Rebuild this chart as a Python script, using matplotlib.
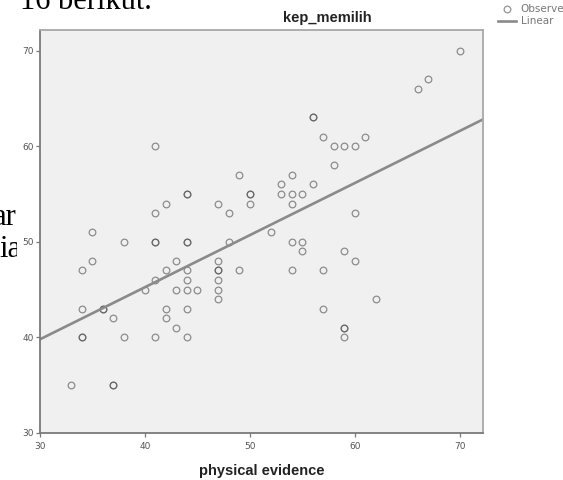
"""
Scatter kep_memilih vs physical evidence dengan garis regresi linear
"""

import matplotlib
matplotlib.use('Agg')
import matplotlib.pyplot as plt
import numpy as np
from matplotlib.patches import Rectangle

# data observasi (titik ganda ditulis dua kali)
physical = [33, 34, 34, 34, 34, 35, 35, 36, 36, 37, 37, 37, 38, 38, 40,
            41, 41, 41, 41, 41, 41, 42, 42, 42, 42, 43, 43, 43,
            44, 44, 44, 44, 44, 44, 44, 44, 44, 45,
            47, 47, 47, 47, 47, 47, 47, 48, 48, 49, 49, 50, 50, 50, 52,
            53, 53, 54, 54, 54, 54, 54, 55, 55, 55, 56, 56, 56,
            57, 57, 57, 58, 58, 59, 59, 59, 59, 59, 60, 60, 60, 61, 62,
            66, 67, 70]
kep_memilih = [35, 47, 43, 40, 40, 51, 48, 43, 43, 42, 35, 35, 50, 40, 45,
               60, 53, 50, 50, 46, 40, 54, 47, 43, 42, 48, 45, 41,
               55, 55, 50, 50, 47, 46, 45, 43, 40, 45,
               54, 48, 47, 47, 46, 45, 44, 53, 50, 57, 47, 55, 55, 54, 51,
               56, 55, 57, 55, 54, 50, 47, 55, 50, 49, 63, 63, 56,
               61, 47, 43, 60, 58, 60, 49, 41, 41, 40, 60, 53, 48, 61, 44,
               66, 67, 70]

# koefisien garis linear
intercept = 23.45
slope = 0.545

x_ticks = [30, 40, 50, 60, 70]
y_ticks = [30, 40, 50, 60, 70]

W, H = 563, 480
fig = plt.figure(figsize=(W / 100, H / 100), dpi=100)
fig.patch.set_facecolor('white')

# teks dokumen di belakang grafik
serif = dict(family='Liberation Serif', fontsize=22, color='black', zorder=-3)
fig.text(20 / W, 1 - 9 / H, '16 berikut.', ha='left', va='baseline', **serif)
fig.text(17 / W, 1 - 225 / H, 'ar', ha='right', va='baseline', **serif)
fig.text(-1 / W, 1 - 257 / H, 'ia', ha='left', va='baseline', **serif)
fig.patches.append(Rectangle((16.5 / W, 0), 1, 1 - 40 / H, transform=fig.transFigure,
                             facecolor='white', edgecolor='none', zorder=-2))

ax = fig.add_axes([40 / W, 47 / H, 443 / W, 403 / H])
ax.set_facecolor('#f0f0f0')

pts, = ax.plot(physical, kep_memilih, 'o', ls='none', ms=4.8, mfc='none',
               mec='#4a4a4a', mew=0.9, alpha=0.6, label='Observed')
xs = np.array([30, 72.2])
fit, = ax.plot(xs, intercept + slope * xs, color='#8a8a8a', lw=1.9, label='Linear')

ax.set_xlim(30, 72.2)
ax.set_ylim(30, 72.15)
ax.set_xticks(x_ticks)
ax.set_yticks(y_ticks)

for side in ['top', 'right']:
    ax.spines[side].set_color('#a8a8a8')
    ax.spines[side].set_linewidth(1.3)
for side in ['left', 'bottom']:
    ax.spines[side].set_color('#7a7a7a')
    ax.spines[side].set_linewidth(1.3)

ax.tick_params(axis='both', direction='out', length=3, width=0.9, color='#777777',
               labelsize=6.5, labelcolor='#555555')
ax.tick_params(axis='x', pad=3.5)
ax.tick_params(axis='y', pad=1.2)

ax.set_xlabel('physical evidence', fontsize=10.5, fontweight='bold',
              family='Liberation Sans', color='#222222', labelpad=9)
fig.text(327 / W, 1 - 22 / H, 'kep_memilih', ha='center', va='baseline',
         fontsize=10.5, fontweight='bold', family='Liberation Sans', color='#222222')

fig.legend(handles=[pts, fit], loc='upper left', bbox_to_anchor=(493 / W, 1 + 1 / H),
           frameon=False, fontsize=7.5, labelcolor='#777777', borderpad=0,
           labelspacing=0.2, handlelength=1.7, handletextpad=0.45)

fig.savefig('out.png', dpi=100)
